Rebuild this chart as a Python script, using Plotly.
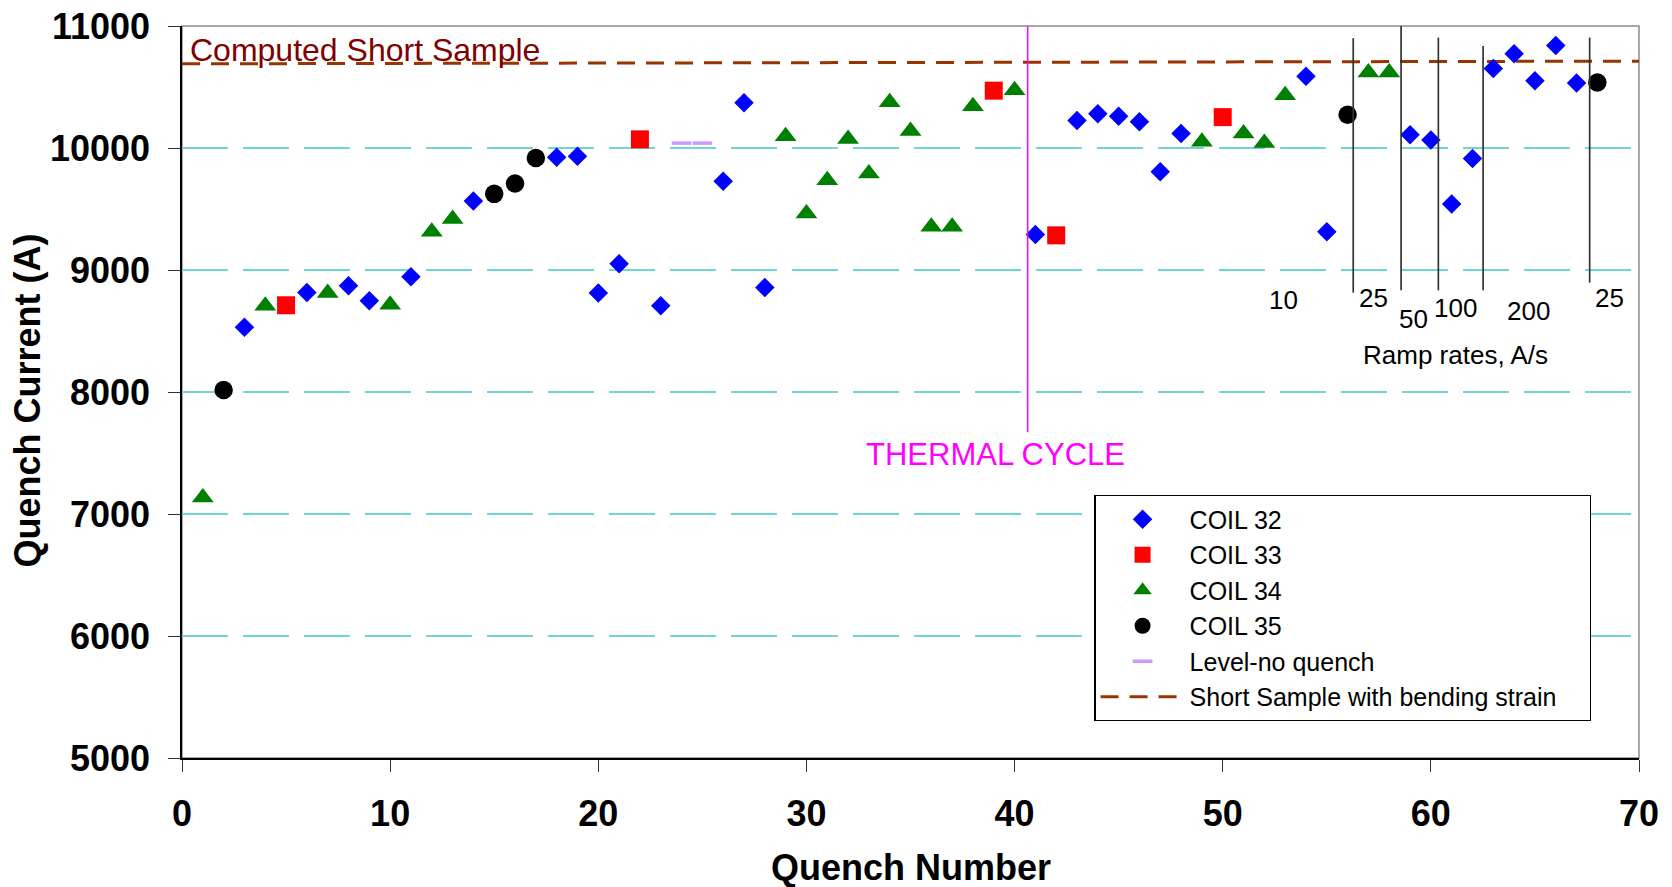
import plotly.graph_objects as go

# ---------------- data ----------------
coil32_x = [3, 6, 8, 9, 11, 14, 18, 19, 20, 21, 23, 26, 27, 28, 41, 43, 44, 45, 46, 47, 48,
            54, 55, 59, 60, 61, 62, 63, 64, 65, 66, 67]
coil32_y = [8530, 8815, 8870, 8748, 8945, 9565, 9925, 9932, 8812, 9052, 8706, 9728, 10370, 8857,
            9292, 10226, 10281, 10260, 10216, 9805, 10118, 10588, 9313, 10109, 10066, 9542, 9913,
            10652, 10772, 10551, 10840, 10532]

coil33_x = [5, 22, 39, 42, 50]
coil33_y = [8711, 10071, 10470, 9284, 10253]

coil34_x = [1, 4, 7, 10, 12, 13, 29, 30, 31, 32, 33, 34, 35, 36, 37, 38, 40, 49, 51, 52, 53, 57, 58]
coil34_y = [7135, 8706, 8812, 8716, 9313, 9419, 10096, 9463, 9736, 10074, 9790, 10376, 10139,
            9354, 9354, 10343, 10474, 10052, 10118, 10041, 10433, 10619, 10619]

coil35_x = [2, 15, 16, 17, 56, 68]
coil35_y = [8016, 9624, 9709, 9918, 10273, 10537]

level_x = [24, 25]
level_y = [10040, 10040]

short_sample_x = [0, 70]
short_sample_y = [10690, 10712]

thermal_cycle_x = 40.63
thermal_cycle_y = [7670, 11000]

ramp_line_x = [56.27, 58.57, 60.36, 62.51, 67.63]
ramp_line_top = [10900, 11000, 10905, 10837, 10905]
ramp_line_bottom = [8814, 8834, 8834, 8834, 8896]

ramp_labels = ["10", "25", "50", "100", "200", "25"]
ramp_label_x = [52.9, 57.23, 59.17, 61.2, 64.68, 68.6]
ramp_label_y = [8755, 8767, 8597, 8689, 8665, 8767]

x_ticks = [0, 10, 20, 30, 40, 50, 60, 70]
y_ticks = [5000, 6000, 7000, 8000, 9000, 10000, 11000]

FONT = "Liberation Sans, Arial, sans-serif"
PAD = "\u00a0" * 4  # widens the legend box a little, like the original

fig = go.Figure()

fig.add_trace(go.Scatter(
    x=short_sample_x, y=short_sample_y, mode="lines",
    name="Short Sample with bending strain" + PAD, legendrank=6,
    line=dict(color="#993300", width=3, dash="18px,11px"),
))
fig.add_trace(go.Scatter(
    x=coil32_x, y=coil32_y, mode="markers", name="COIL 32", legendrank=1,
    marker=dict(symbol="diamond", size=15, color="#0000FF"),
))
fig.add_trace(go.Scatter(
    x=coil33_x, y=coil33_y, mode="markers", name="COIL 33", legendrank=2,
    marker=dict(symbol="square", size=18, color="#FF0000"),
))
fig.add_trace(go.Scatter(
    x=coil34_x, y=coil34_y, mode="markers", name="COIL 34", legendrank=3,
    marker=dict(symbol="triangle-up", size=19, color="#008000"),
))
fig.add_trace(go.Scatter(
    x=coil35_x, y=coil35_y, mode="markers", name="COIL 35", legendrank=4,
    marker=dict(symbol="circle", size=18.5, color="#000000"),
))
fig.add_trace(go.Scatter(
    x=level_x, y=level_y, mode="markers", name="Level-no quench", legendrank=5,
    marker=dict(symbol="line-ew", size=14, color="#CC99FF",
                line=dict(color="#CC99FF", width=3.5)),
))

shapes = []
# plot-area border (grey)
shapes.append(dict(type="rect", xref="paper", yref="paper", x0=0, x1=1, y0=0, y1=1,
                   line=dict(color="#8c8c8c", width=1.5), layer="below"))
# thermal cycle line
shapes.append(dict(type="line", xref="x", yref="y", x0=thermal_cycle_x, x1=thermal_cycle_x,
                   y0=thermal_cycle_y[0], y1=thermal_cycle_y[1],
                   line=dict(color="#FF00FF", width=1.5)))
# ramp rate separators
for xv, yt, yb in zip(ramp_line_x, ramp_line_top, ramp_line_bottom):
    shapes.append(dict(type="line", xref="x", yref="y", x0=xv, x1=xv, y0=yb, y1=yt,
                       line=dict(color="#333333", width=1.7)))

annotations = []
for t, xv, yv in zip(ramp_labels, ramp_label_x, ramp_label_y):
    annotations.append(dict(x=xv, y=yv, xref="x", yref="y", text=t, showarrow=False,
                            xanchor="center", yanchor="middle",
                            font=dict(family=FONT, size=26, color="#000000")))
annotations.append(dict(x=61.16, y=8305, xref="x", yref="y", text="Ramp rates, A/s",
                        showarrow=False, xanchor="center", yanchor="middle",
                        font=dict(family=FONT, size=26, color="#000000")))
annotations.append(dict(x=39.08, y=7485, xref="x", yref="y", text="THERMAL CYCLE",
                        showarrow=False, xanchor="center", yanchor="middle",
                        font=dict(family=FONT, size=31, color="#FF00FF")))
annotations.append(dict(x=0.3, y=10807, xref="x", yref="y", text="Computed Short Sample",
                        showarrow=False, xanchor="left", yanchor="middle",
                        font=dict(family=FONT, size=32, color="#800000")))
# axis titles
annotations.append(dict(x=0.5, y=-0.150, xref="paper", yref="paper", text="<b>Quench Number</b>",
                        showarrow=False, xanchor="center", yanchor="middle",
                        font=dict(family=FONT, size=36, color="#000000")))
annotations.append(dict(x=-0.1067, y=0.4877, xref="paper", yref="paper",
                        text="<b>Quench Current (A)</b>", textangle=-90,
                        showarrow=False, xanchor="center", yanchor="middle",
                        font=dict(family=FONT, size=36, color="#000000")))

fig.update_layout(
    width=1672, height=887,
    margin=dict(l=182, r=33, t=26, b=129, autoexpand=False),
    paper_bgcolor="white", plot_bgcolor="white",
    font=dict(family=FONT, color="#000000"),
    shapes=shapes, annotations=annotations,
    showlegend=True,
    legend=dict(
        x=0.6262, y=0.3589, xanchor="left", yanchor="top",
        bgcolor="white", bordercolor="#000000", borderwidth=1.2,
        font=dict(family=FONT, size=25, color="#000000"),
        itemwidth=84, traceorder="normal",
    ),
)

fig.update_xaxes(
    range=[0, 70], tickvals=x_ticks, ticktext=[str(v) for v in x_ticks],
    showgrid=False, zeroline=False, automargin=False,
    showline=True, linecolor="#000000", linewidth=1.5,
    ticks="outside", ticklen=12, tickwidth=1.3, tickcolor="#333333",
    tickfont=dict(family=FONT, size=36, color="#000000", weight="bold"),
    ticklabelstandoff=11, ticklabeloverflow="allow",
)
fig.update_yaxes(
    range=[5000, 11000], tickvals=y_ticks, ticktext=[str(v) for v in y_ticks],
    showgrid=True, gridcolor="#6fd6d6", gridwidth=1.5, griddash="46px,15px",
    zeroline=False, automargin=False,
    showline=True, linecolor="#000000", linewidth=1.5,
    ticks="outside", ticklen=12, tickwidth=1.3, tickcolor="#333333",
    tickfont=dict(family=FONT, size=36, color="#000000", weight="bold"),
    ticklabelstandoff=11, ticklabeloverflow="allow",
)

# remove the browser's default 8px body margin so the figure fills the window exactly
fig.write_html("out.html",
               config={"displayModeBar": False},
               post_script="document.body.style.margin='0';document.body.style.overflow='hidden';")
